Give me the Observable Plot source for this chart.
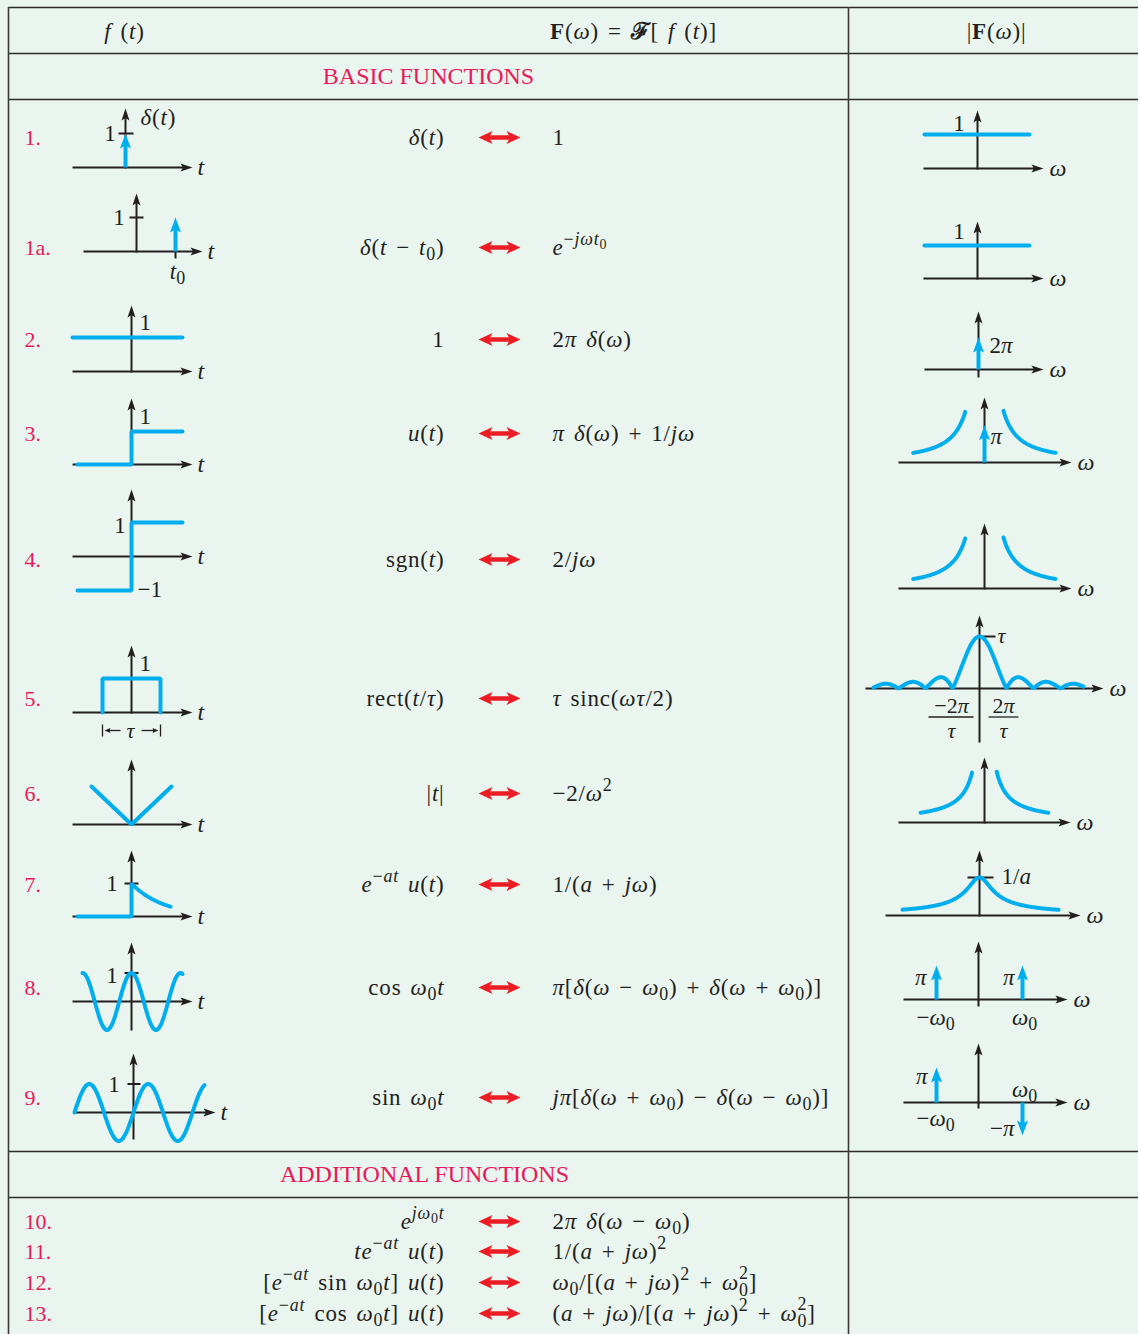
<!DOCTYPE html>
<html>
<head>
<meta charset="utf-8">
<script src="https://cdn.jsdelivr.net/npm/d3@7"></script>
<script src="https://cdn.jsdelivr.net/npm/@observablehq/plot@0.6"></script>
<style>
  html, body { margin: 0; padding: 0; background: #e9f5ee; }
  #chart svg { display: block; }
  #chart svg text { white-space: pre; }
</style>
</head>
<body>
<div id="chart"></div>
<script>
// ====================== DATA ======================
const columnHeaders = ["f (t)", "\\b{F}(ω) = \\b{ℱ}[ f (t)]", "|\\b{F}(ω)|"];
const sectionTitles = ["BASIC FUNCTIONS", "ADDITIONAL FUNCTIONS"];
const rowNumbers = ["1.", "1a.", "2.", "3.", "4.", "5.", "6.", "7.", "8.", "9.", "10.", "11.", "12.", "13."];
const timeFunctions = [
  "δ(t)", "δ(t − t_0)", "1", "u(t)", "sgn(t)", "rect(t/τ)", "|t|", "e^{−at} u(t)",
  "cos ω_0t", "sin ω_0t", "e^{jω_0t}", "te^{−at} u(t)",
  "[e^{−at} sin ω_0t] u(t)", "[e^{−at} cos ω_0t] u(t)"
];
const transforms = [
  "1", "e^{−jωt_0}", "2π δ(ω)", "π δ(ω) + 1/jω", "2/jω", "τ sinc(ωτ/2)", "−2/ω^2",
  "1/(a + jω)", "π[δ(ω − ω_0) + δ(ω + ω_0)]", "jπ[δ(ω + ω_0) − δ(ω − ω_0)]",
  "2π δ(ω − ω_0)", "1/(a + jω)^2", "ω_0/[(a + jω)^2 + ω_0^2]", "(a + jω)/[(a + jω)^2 + ω_0^2]"
];
const timeAxisLabel = "t";
const freqAxisLabel = "ω";
const timeTickLabels = [["1", "δ(t)"], ["1", "t_0"], ["1"], ["1"], ["1", "−1"], ["1", "τ"], [], ["1"], ["1"], ["1"]];
const spectrumTickLabels = [["1"], ["1"], ["2π"], ["π"], [], ["τ", "−2π", "τ", "2π", "τ"], [], ["1/a"],
  ["π", "π", "−ω_0", "ω_0"], ["π", "ω_0", "−ω_0", "−π"]];
// impulse weights read from the sketches (amplitude units)
const impulseWeights = { t1: 1, t1a: 1, f2: 1, f3: 0.72, f8: [1, 1], f9: [1.03, -0.97] };

// ====================== LAYOUT / STYLE ======================
const W = 1138, H = 1334;
const INK = "#231f20", BLUE = "#00aeef", RED = "#ed1c24", PINK = "#e8195a", BG = "#e9f5ee";
const FONT = "'Liberation Serif', 'Times New Roman', serif";
const FS = 23, FS_FORMULA = 23, FS_AXIS = 24;
const rowY = [137, 247, 339, 433, 559, 698, 793, 884, 987, 1097, 1221, 1251, 1282, 1313];
const ruleYs = [7, 53, 99, 1151, 1197];
const ruleXs = [8, 848];
const headerX = [124, 633, 996], headerY = 31;
const sectionPos = [{x: 428, y: 76}, {x: 424, y: 1174}];
const colX = {num: 24, fRight: 444, arrowL: 478, arrowR: 520, FLeft: 552};

const leftLayout = [
  {cx: 125, cy: 167, xl: 72, xr: 192, top: 108, u: 34},
  {cx: 136, cy: 251, xl: 83, xr: 202, top: 193, u: 34},
  {cx: 131, cy: 371, xl: 72, xr: 192, top: 305, u: 34},
  {cx: 131, cy: 464, xl: 72, xr: 192, top: 398, u: 33},
  {cx: 131, cy: 556, xl: 72, xr: 192, top: 489, u: 34},
  {cx: 131, cy: 712, xl: 72, xr: 192, top: 645, u: 34},
  {cx: 131, cy: 824, xl: 72, xr: 192, top: 759, u: 38},
  {cx: 131, cy: 916, xl: 72, xr: 192, top: 850, u: 33},
  {cx: 131, cy: 1001, xl: 72, xr: 192, top: 942, bottom: 1030, u: 28.5},
  {cx: 133, cy: 1112, xl: 74, xr: 215, top: 1053, bottom: 1139, u: 28.5}
];
const rightLayout = [
  {cx: 977, cy: 168, xl: 923, xr: 1043, top: 110, u: 34},
  {cx: 977, cy: 278, xl: 923, xr: 1043, top: 221, u: 33},
  {cx: 978, cy: 369, xl: 924, xr: 1043, top: 311, u: 32},
  {cx: 984, cy: 462, xl: 898, xr: 1071, top: 397, u: 51.6},
  {cx: 984, cy: 588, xl: 898, xr: 1071, top: 523, u: 51},
  {cx: 979, cy: 688, xl: 865, xr: 1103, top: 615, bottom: 742, u: 52},
  {cx: 984, cy: 822, xl: 898, xr: 1070, top: 757, u: 50.7},
  {cx: 979, cy: 915, xl: 885, xr: 1080, top: 850, u: 38},
  {cx: 978, cy: 999, xl: 903, xr: 1067, top: 941, u: 34},
  {cx: 978, cy: 1102, xl: 903, xr: 1067, top: 1043, u: 34}
];

// ====================== GEOMETRY BUILDERS ======================
const axes = [], heads = [], blueLines = [], blueShafts = [], blueHeads = [];
const thinLines = [], thinHeads = [], labels = [], redShafts = [], redHeads = [];
let curveId = 0;
const pt = (L, t, v) => ({x: L.cx + t, y: L.cy - v * L.u});
function frame(L, name) {
  axes.push({x1: L.xl, y1: L.cy, x2: L.xr - 6, y2: L.cy});
  heads.push({x: L.xr, y: L.cy, dir: "right"});
  axes.push({x1: L.cx, y1: (L.bottom ?? L.cy + 1), x2: L.cx, y2: L.top + 6});
  heads.push({x: L.cx, y: L.top, dir: "up"});
  labels.push({x: L.xr + (name === "ω" ? 6 : 5), y: L.cy, text: name, anchor: "start", size: FS_AXIS});
}
function poly(L, pts) { const id = curveId++; for (const [t, v] of pts) blueLines.push({...pt(L, t, v), id}); }
function fn(L, t0, t1, f, step = 0.5) {
  const id = curveId++;
  for (let t = t0; t <= t1 + 1e-9; t += step) blueLines.push({...pt(L, t, f(t)), id});
}
function mirrored(L, d0, d1, f) { fn(L, -d1, -d0, t => f(-t)); fn(L, d0, d1, f); }
function impulse(L, t, v) {
  const base = pt(L, t, 0), tip = pt(L, t, v);
  const up = v > 0;
  blueShafts.push({x1: base.x, y1: base.y, x2: tip.x, y2: tip.y + (up ? 11 : -11)});
  blueHeads.push({x: tip.x, y: tip.y, dir: up ? "up" : "down"});
}
function hTick(L, v, a, b) { const y = L.cy - v * L.u; axes.push({x1: L.cx + a, y1: y, x2: L.cx + b, y2: y}); }
function vTick(L, t, len) { axes.push({x1: L.cx + t, y1: L.cy, x2: L.cx + t, y2: L.cy + len}); }
function label(x, y, text, anchor, size = FS) { labels.push({x, y, text, anchor, size}); }

// ---- left column: time-domain sketches ----
{ const L = leftLayout[0]; frame(L, timeAxisLabel); hTick(L, 1, -7, 8); impulse(L, 0, impulseWeights.t1);
  label(L.cx - 9, L.cy - L.u, timeTickLabels[0][0], "end"); label(L.cx + 15, L.cy - 50, timeTickLabels[0][1], "start"); }
{ const L = leftLayout[1]; frame(L, timeAxisLabel); hTick(L, 1, -7, 7); impulse(L, 39, impulseWeights.t1a); vTick(L, 39, 7);
  label(L.cx - 11, L.cy - L.u, timeTickLabels[1][0], "end"); label(L.cx + 41, L.cy + 20, timeTickLabels[1][1], "middle"); }
{ const L = leftLayout[2]; frame(L, timeAxisLabel); poly(L, [[-59, 1], [51, 1]]);
  label(L.cx + 8, L.cy - 49, timeTickLabels[2][0], "start"); }
{ const L = leftLayout[3]; frame(L, timeAxisLabel); poly(L, [[-54, 0], [0, 0], [0, 1], [51, 1]]);
  label(L.cx + 8, L.cy - 48, timeTickLabels[3][0], "start"); }
{ const L = leftLayout[4]; frame(L, timeAxisLabel); poly(L, [[-54, -1], [0, -1], [0, 1], [51, 1]]);
  label(L.cx - 5, L.cy - 31, timeTickLabels[4][0], "end"); label(L.cx + 6, L.cy + 33, timeTickLabels[4][1], "start"); }
{ const L = leftLayout[5]; frame(L, timeAxisLabel); poly(L, [[-29, 0], [-29, 1], [29, 1], [29, 0]]);
  label(L.cx + 8, L.cy - 49, timeTickLabels[5][0], "start");
  const y = L.cy + 18;
  thinLines.push({x1: L.cx - 29, y1: y - 6, x2: L.cx - 29, y2: y + 6}, {x1: L.cx + 29, y1: y - 6, x2: L.cx + 29, y2: y + 6});
  thinLines.push({x1: L.cx - 11, y1: y, x2: L.cx - 24, y2: y}, {x1: L.cx + 10, y1: y, x2: L.cx + 23, y2: y});
  thinHeads.push({x: L.cx - 27, y, dir: "left"}, {x: L.cx + 27, y, dir: "right"});
  label(L.cx - 1, y, timeTickLabels[5][1], "middle", 22); }
{ const L = leftLayout[6]; frame(L, timeAxisLabel); poly(L, [[-40, 1], [0, 0], [40, 1]]); }
{ const L = leftLayout[7]; frame(L, timeAxisLabel); hTick(L, 1, -7, 7);
  poly(L, [[-54, 0], [0, 0], ...d3.range(0, 39.25, 0.5).map(t => [t, Math.exp(-t / 32.4)])]);
  label(L.cx - 13, L.cy - L.u, timeTickLabels[7][0], "end"); }
{ const L = leftLayout[8]; frame(L, timeAxisLabel); fn(L, -49, 51, t => Math.cos(2 * Math.PI * t / 49)); hTick(L, 1, -7, 7);
  label(L.cx - 13, L.cy - 26, timeTickLabels[8][0], "end"); }
{ const L = leftLayout[9]; frame(L, timeAxisLabel); fn(L, -59, 71, t => Math.sin(2 * Math.PI * t / 59)); hTick(L, 1, -6, 7);
  label(L.cx - 13, L.cy - 28, timeTickLabels[9][0], "end"); }

// ---- right column: magnitude spectra ----
{ const L = rightLayout[0]; frame(L, freqAxisLabel); poly(L, [[-53, 1], [52, 1]]); label(L.cx - 12, L.cy - 45, spectrumTickLabels[0][0], "end"); }
{ const L = rightLayout[1]; frame(L, freqAxisLabel); poly(L, [[-53, 1], [52, 1]]); label(L.cx - 12, L.cy - 47, spectrumTickLabels[1][0], "end"); }
{ const L = rightLayout[2]; frame(L, freqAxisLabel); impulse(L, 0, impulseWeights.f2); vTick(L, 0, 8);
  label(L.cx + 11, L.cy - 24, spectrumTickLabels[2][0], "start"); }
{ const L = rightLayout[3]; frame(L, freqAxisLabel); mirrored(L, 19, 71.3, d => Math.pow(19 / d, 1.27));
  impulse(L, 0, impulseWeights.f3); label(L.cx + 6, L.cy - 26, spectrumTickLabels[3][0], "start"); }
{ const L = rightLayout[4]; frame(L, freqAxisLabel); mirrored(L, 19, 71.3, d => Math.pow(19 / d, 1.27)); }
{ const L = rightLayout[5]; frame(L, freqAxisLabel);
  fn(L, -106, 104, t => { const x = Math.PI * t / 27; return Math.abs(t === 0 ? 1 : Math.sin(x) / x); }, 0.5);
  hTick(L, 1, 0, 16); label(L.cx + 18, L.cy - 53, spectrumTickLabels[5][0], "start", 22);
  label(951, L.cy + 17, spectrumTickLabels[5][1], "middle", 22); thinLines.push({x1: 928, y1: L.cy + 28.5, x2: 973, y2: L.cy + 28.5});
  label(951, L.cy + 42, spectrumTickLabels[5][2], "middle", 22);
  label(1003, L.cy + 17, spectrumTickLabels[5][3], "middle", 22); thinLines.push({x1: 988, y1: L.cy + 28.5, x2: 1018, y2: L.cy + 28.5});
  label(1003, L.cy + 42, spectrumTickLabels[5][4], "middle", 22); }
{ const L = rightLayout[6]; frame(L, freqAxisLabel); mirrored(L, 12.3, 64, d => 12.3 / d); }
{ const L = rightLayout[7]; frame(L, freqAxisLabel); fn(L, -77, 79, t => 1 / Math.sqrt(1 + (t / 12) ** 2));
  hTick(L, 1, -12, 14); label(L.cx + 22, L.cy - 39, spectrumTickLabels[7][0], "start"); }
{ const L = rightLayout[8]; frame(L, freqAxisLabel); impulse(L, -42, impulseWeights.f8[0]); impulse(L, 44, impulseWeights.f8[1]); vTick(L, 0, 7);
  label(926, L.cy - 22, spectrumTickLabels[8][0], "end"); label(1014, L.cy - 22, spectrumTickLabels[8][1], "end");
  label(935, L.cy + 18, spectrumTickLabels[8][2], "middle"); label(1024, L.cy + 18, spectrumTickLabels[8][3], "middle"); }
{ const L = rightLayout[9]; frame(L, freqAxisLabel); impulse(L, -42, impulseWeights.f9[0]); impulse(L, 44, impulseWeights.f9[1]); vTick(L, 0, 6);
  label(927, L.cy - 26, spectrumTickLabels[9][0], "end"); label(1024, L.cy - 13, spectrumTickLabels[9][1], "middle");
  label(935, L.cy + 16, spectrumTickLabels[9][2], "middle"); label(1014, L.cy + 26, spectrumTickLabels[9][3], "end"); }

// ---- formula columns ----
rowY.forEach((y, i) => {
  label(colX.fRight, y, timeFunctions[i], "end", FS_FORMULA);
  label(colX.FLeft, y, transforms[i], "start", FS_FORMULA);
  redShafts.push({x1: colX.arrowL + 9, x2: colX.arrowR - 9, y});
  redHeads.push({x: colX.arrowL, y, dir: "left"}, {x: colX.arrowR, y, dir: "right"});
});
columnHeaders.forEach((h, i) => label(headerX[i], headerY, h, "middle", FS_FORMULA));

const numberData = rowNumbers.map((n, i) => ({x: colX.num, y: rowY[i], text: n}));
const sectionData = sectionTitles.map((s, i) => ({...sectionPos[i], text: s}));

// ====================== SYMBOLS ======================
function arrowHead(len, w, notch, dir) {
  const a = {up: 0, right: 90, down: 180, left: 270}[dir] * Math.PI / 180;
  const c = Math.cos(a), s = Math.sin(a);
  const P = (x, y) => [x * c - y * s, x * s + y * c];
  const pts = [P(0, 0), P(w, len), P(0, len - notch), P(-w, len)];
  return {draw(ctx) { ctx.moveTo(...pts[0]); for (let i = 1; i < pts.length; i++) ctx.lineTo(...pts[i]); ctx.closePath(); }};
}
function headMarks(data, fill, len, w, notch) {
  return ["up", "down", "left", "right"].map(dir =>
    Plot.dot(data.filter(d => d.dir === dir), {x: "x", y: "y", r: 5, symbol: arrowHead(len, w, notch, dir), fill, stroke: "none"}));
}
const textMark = (anchor) => Plot.text(labels.filter(d => d.anchor === anchor), {
  x: "x", y: "y", text: "text", textAnchor: anchor, fontSize: d => d.size ?? FS, fontFamily: FONT, fill: INK
});

// ====================== PLOT ======================
const chart = Plot.plot({
  width: W, height: H, margin: 0,
  x: {domain: [0, W], range: [0, W], axis: null},
  y: {domain: [0, H], range: [0, H], axis: null},
  style: {background: BG, fontFamily: FONT},
  marks: [
    Plot.ruleY(ruleYs, {y: d => d, x1: () => ruleXs[0], x2: () => W, stroke: "#2b2b2b", strokeWidth: 1.6}),
    Plot.ruleX(ruleXs, {x: d => d, y1: () => ruleYs[0], y2: () => H, stroke: "#3a3a3a", strokeWidth: 1.6}),
    Plot.link(axes, {x1: "x1", y1: "y1", x2: "x2", y2: "y2", stroke: INK, strokeWidth: 2}),
    Plot.link(thinLines, {x1: "x1", y1: "y1", x2: "x2", y2: "y2", stroke: INK, strokeWidth: 1.3}),
    ...headMarks(heads, INK, 12, 4, 2.5),
    ...headMarks(thinHeads, INK, 6, 2.5, 1),
    Plot.line(blueLines, {x: "x", y: "y", z: "id", stroke: BLUE, strokeWidth: 4, strokeLinejoin: "miter"}),
    Plot.link(blueShafts, {x1: "x1", y1: "y1", x2: "x2", y2: "y2", stroke: BLUE, strokeWidth: 4}),
    ...headMarks(blueHeads, BLUE, 15, 5.5, 3),
    Plot.link(redShafts, {x1: "x1", x2: "x2", y1: "y", y2: "y", stroke: RED, strokeWidth: 4.5}),
    ...headMarks(redHeads, RED, 14, 6.5, 3.5),
    Plot.text(numberData, {x: "x", y: "y", text: "text", textAnchor: "start", fontSize: 22, fontFamily: FONT, fill: PINK}),
    Plot.text(sectionData, {x: "x", y: "y", text: "text", textAnchor: "middle", fontSize: 24, fontFamily: FONT, fill: PINK}),
    textMark("start"), textMark("middle"), textMark("end")
  ]
});
document.getElementById("chart").append(chart);

// ====================== MATH TYPESETTING (tspans) ======================
const UPRIGHT = /^(sinc|sgn|rect|sin|cos)/;
function tokenize(str, level, bold) {
  const out = [];
  let i = 0;
  while (i < str.length) {
    const rest = str.slice(i), m = rest.match(UPRIGHT);
    let text, italic;
    if (m) { text = m[0]; italic = false; }
    else { text = rest[0]; italic = !bold && /[A-Za-zα-ωℱ]/.test(text); }
    i += text.length;
    const last = out[out.length - 1];
    if (last && last.italic === italic) last.text += text;
    else out.push({text, italic, bold, level});
  }
  return out;
}
function parseMath(src) {
  let pos = 0;
  function group(level, bold, end) {
    const runs = [];
    let lastSub = null;
    while (pos < src.length) {
      const c = src[pos];
      if (end && c === end) { pos++; break; }
      if (c === "^" || c === "_") {
        pos++;
        const lv = level.concat(c === "^" ? 1 : -1);
        let sub;
        if (src[pos] === "{") { pos++; sub = group(lv, bold, "}"); }
        else { sub = tokenize(src[pos], lv, bold); pos++; }
        if (c === "^" && lastSub && sub.length) {
          sub[0].stackOn = lastSub;
          lastSub.forEach(q => q.stackedSub = true);
          sub.forEach(q => q.stackedSup = true);
        }
        lastSub = c === "_" ? sub : null;
        runs.push(...sub);
        continue;
      }
      if (c === "\\" && src[pos + 1] === "b" && src[pos + 2] === "{") {
        pos += 3; runs.push(...group(level, true, "}")); lastSub = null; continue;
      }
      let j = pos;
      while (j < src.length && !"^_\\}".includes(src[j])) j++;
      if (j === pos) j = pos + 1;
      runs.push(...tokenize(src.slice(pos, j), level, bold));
      lastSub = null;
      pos = j;
    }
    return runs;
  }
  return group([], false, null);
}
function renderMath(el, src, base) {
  const runs = parseMath(src);
  el.textContent = "";
  let cur = 0;
  for (const r of runs) {
    let size = base, shift = 0;
    for (const l of r.level) { shift += l > 0 ? size * 0.42 : -size * 0.22; size *= 0.78; }
    if (r.stackedSub) shift -= base * 0.05;
    if (r.stackedSup) shift += base * 0.06;
    const ts = document.createElementNS("http://www.w3.org/2000/svg", "tspan");
    ts.textContent = r.text;
    ts.setAttribute("font-size", size.toFixed(2));
    if (r.italic) ts.setAttribute("font-style", "italic");
    if (r.bold) ts.setAttribute("font-weight", "bold");
    const dy = cur - shift;
    if (Math.abs(dy) > 0.01) ts.setAttribute("dy", dy.toFixed(2));
    cur = shift;
    el.appendChild(ts);
    if (r.stackOn) {
      const w = r.stackOn.reduce((s, q) => s + (q.node ? q.node.getComputedTextLength() : 0), 0);
      ts.setAttribute("dx", (-w).toFixed(2));
    }
    r.node = ts;
  }
}
const mathSet = new Set(labels.map(d => d.text));
const formulaSet = new Set([...timeFunctions, ...transforms, ...columnHeaders]);
chart.querySelectorAll("text").forEach(el => {
  const s = el.textContent;
  if (formulaSet.has(s)) { el.style.letterSpacing = "0.8px"; el.style.wordSpacing = "2.5px"; }
  if (mathSet.has(s)) renderMath(el, s, parseFloat(getComputedStyle(el).fontSize) || FS);
});
</script>
</body>
</html>
